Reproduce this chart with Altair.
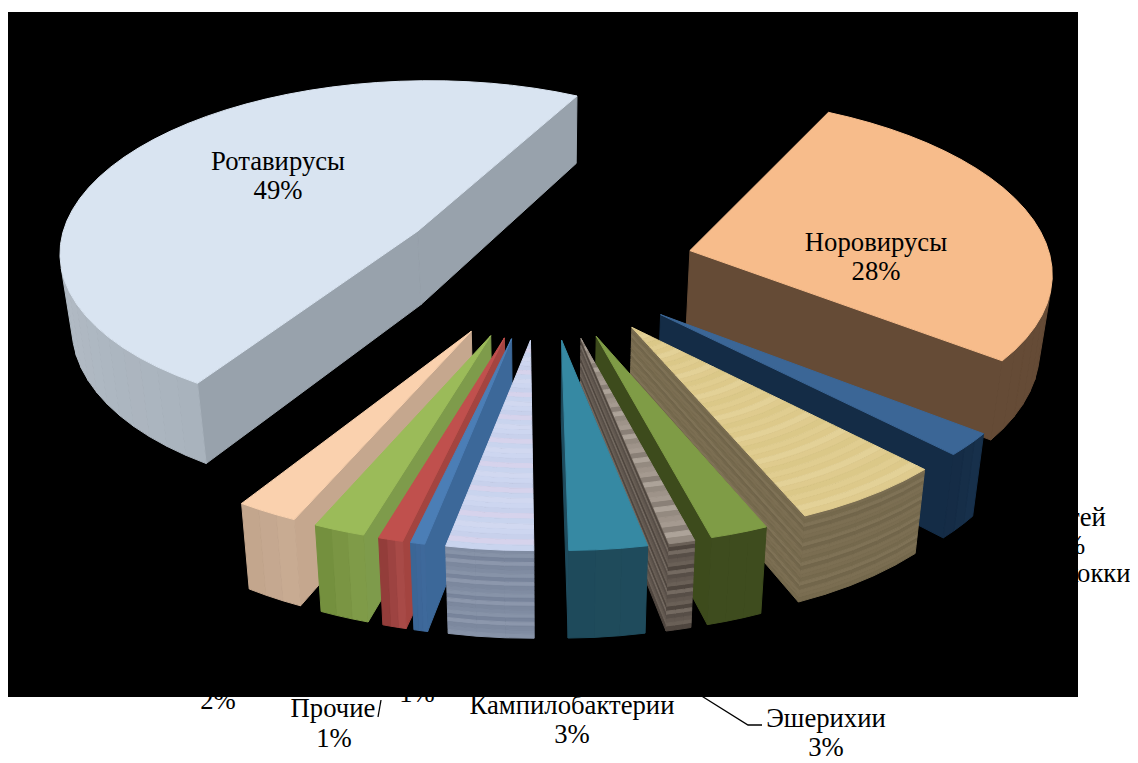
import math
import altair as alt
import pandas as pd

alt.data_transformers.enable("default", max_rows=None)

names = ["Ротавирусы", "Норовирусы", "Ассоциации", "Стафилококки", "Эшерихии", "Сальмонеллы",
         "Кампилобактерии", "Аденовирусы", "Энтеробактер", "Прочие", "Клебсиеллы", "Астровирусы"]
values = [48.5, 27.9, 2.1, 6.0, 2.25, 1.0, 3.0, 3.35, 0.55, 0.95, 2.0, 2.4]
top_colors = ["#D9E4F1", "#F7BC8B", "#3B6696", "#DFCB8E", "#7F9C46", "#9B9088", "#3689A3",
              "#CBD5EE", "#4B7EB6", "#C0504D", "#9BBB59", "#FAD1AE"]
radial_colors = ["#98A2AC", "#654B36", "#142C46", "#776A4E", "#3D4B1C", "#5D534B", "#1F4C5E",
                 "#3F6A9C", "#3C6899", "#A34440", "#7E9B4B", "#C5A78E"]
outer_a = ["#A9B3BD", "#654B36", "#17304B", "#7C6F52", "#3E4C1E", "#6A6058", "#1F4B5C",
           "#7F8CA3", "#3E699B", "#A84A47", "#7F9B48", "#C8AB92"]
outer_b = ["#CDD4DE", "#654B36", "#142A43", "#7C6F52", "#3E4C1E", "#5A5048", "#1E4A5A",
           "#8793AA", "#3A6494", "#883634", "#6F8A39", "#C0A38B"]
# repeating shade cycles that imitate the picture-fill textures of three slices
top_texture = {3: ["#E0CD90", "#DDC98A", "#E3D197", "#DFCB8E", "#DBC888"],
               5: ["#A59A90", "#8A8077", "#ADA399", "#948A80", "#9E9389"],
               7: ["#CDD6F0", "#C8D1EC", "#D6D3EC", "#C9D4EE", "#D1D8F0"]}
wall_texture = {3: ["#7A6D51", "#75694D", "#7F7256", "#72664B", "#7C6F53"],
                5: ["#6A6057", "#4F463F", "#746A61", "#574E47", "#625850"],
                7: ["#808CA2", "#8793A8", "#78849B", "#8C97AC", "#7C889E"]}

text_rows = [
    ("Ротавирусы", 278, 162), ("49%", 278, 191),
    ("Норовирусы", 876, 243), ("28%", 876, 272),
    ("тей", 1087, 518), ("%", 1074, 546), ("кокки", 1098, 574),
    ("2%", 218, 701), ("Прочие", 333, 709), ("1%", 334, 739), ("1%", 417, 694),
    ("Кампилобактерии", 572, 706), ("3%", 572, 735),
    ("Эшерихии", 826, 719), ("3%", 826, 748),
]
leader_rows = [
    ("a", 0, 700, 695), ("a", 1, 748, 725), ("a", 2, 762, 725),
    ("b", 0, 381, 700), ("b", 1, 378, 717),
]

# camera model of the tilted, exploded pie
CX, CY, R, AR, P, H, EXPL, START = 545.0, 266.0, 362.0, 172.5, 0.102, 75.0, 0.414, 212.6
BANDS = 22
RINGS = 44


def project(gx, gz, drop=None):
    s = 1.0 / (1.0 + P * gz)
    x = CX + R * s * gx
    y = CY - AR * s * gz
    if drop is not None:
        x = CX + (x - CX) * (1 - 0.025 * drop)
        y += H * s * drop
    return x, y


def mix(a, b, t):
    ca = [int(a[i:i + 2], 16) for i in (1, 3, 5)]
    cb = [int(b[i:i + 2], 16) for i in (1, 3, 5)]
    return "#%02X%02X%02X" % tuple(round(u + (v - u) * t) for u, v in zip(ca, cb))


rows = []
pid = [0]


def add_poly(pts, fill):
    pid[0] += 1
    for i, (x, y) in enumerate(pts):
        rows.append({"poly": "p%05d" % pid[0], "i": i, "x": x, "y": y, "fill": fill})


def wall(a, b, fill, cycle=None):
    q = [project(*a), project(*b), project(*b, drop=1), project(*a, drop=1)]
    area = sum(q[i][0] * q[(i + 1) % 4][1] - q[(i + 1) % 4][0] * q[i][1] for i in range(4))
    if area >= 0:
        return
    if cycle is None:
        add_poly(q, fill)
        return
    for m in range(BANDS):
        d0, d1 = m / BANDS, (m + 1) / BANDS
        add_poly([project(*a, drop=d0), project(*b, drop=d0),
                  project(*b, drop=d1), project(*a, drop=d1)], cycle[m % len(cycle)])


slices = []
ang = START
for k, v in enumerate(values):
    a0 = ang
    a1 = ang + v * 3.6
    ang = a1
    slices.append((k, a0, a1))

slices.sort(key=lambda s: -math.cos(math.radians((s[1] + s[2]) / 2)))

for k, a0, a1 in slices:
    mid = math.radians((a0 + a1) / 2)
    ox, oz = EXPL * math.sin(mid), EXPL * math.cos(mid)
    tip = (ox, oz)
    n = max(3, int((a1 - a0) / 4))
    units = [(math.sin(math.radians(a0 + (a1 - a0) * j / n)),
              math.cos(math.radians(a0 + (a1 - a0) * j / n))) for j in range(n + 1)]
    arc = [(ox + u, oz + w) for u, w in units]
    cyc = wall_texture.get(k)
    wall(tip, arc[0], radial_colors[k], cyc)
    wall(arc[-1], tip, radial_colors[k], cyc)
    for j in range(n):
        wall(arc[j], arc[j + 1], mix(outer_a[k], outer_b[k], j / n), cyc)
    if k in top_texture:
        tc = top_texture[k]
        for m in range(RINGS):
            r0, r1 = m / RINGS, (m + 1) / RINGS
            outer = [project(ox + u * r1, oz + w * r1) for u, w in units]
            inner = [project(ox + u * r0, oz + w * r0) for u, w in reversed(units)]
            add_poly(outer + inner, tc[m % len(tc)])
    else:
        add_poly([project(*tip)] + [project(*p) for p in arc], top_colors[k])

df = pd.DataFrame(rows)

XS = alt.Scale(domain=[8, 1130], nice=False, zero=False)
YS = alt.Scale(domain=[763, 8], nice=False, zero=False)

bg = alt.Chart(pd.DataFrame([{"x": 8, "x2": 1078, "y": 12, "y2": 697}])).mark_rect(color="#000000").encode(
    x=alt.X("x:Q", scale=XS, axis=None), x2="x2:Q",
    y=alt.Y("y:Q", scale=YS, axis=None), y2="y2:Q",
)
polys = alt.Chart(df).mark_line(filled=True, strokeWidth=1, interpolate="linear-closed").encode(
    x=alt.X("x:Q", scale=XS, axis=None),
    y=alt.Y("y:Q", scale=YS, axis=None),
    detail="poly:N",
    order="i:Q",
    fill=alt.Fill("fill:N", scale=None),
    stroke=alt.Stroke("fill:N", scale=None),
)
leaders = alt.Chart(pd.DataFrame(leader_rows, columns=["id", "i", "x", "y"])).mark_line(
    color="#000000", strokeWidth=1.3).encode(
    x=alt.X("x:Q", scale=XS, axis=None),
    y=alt.Y("y:Q", scale=YS, axis=None),
    detail="id:N", order="i:Q",
)
labels = alt.Chart(pd.DataFrame(text_rows, columns=["t", "x", "y"])).mark_text(
    font="Liberation Serif", fontSize=26.7, color="#000000", align="center", baseline="middle").encode(
    x=alt.X("x:Q", scale=XS, axis=None),
    y=alt.Y("y:Q", scale=YS, axis=None),
    text="t:N",
)

chart = alt.layer(bg, polys, leaders, labels).properties(
    width=1122, height=755, padding=0, autosize=alt.AutoSizeParams(type="none"),
    background="#FFFFFF",
).configure_view(stroke=None)
chart.save("out.html", embed_options={"renderer": "svg", "actions": False})
